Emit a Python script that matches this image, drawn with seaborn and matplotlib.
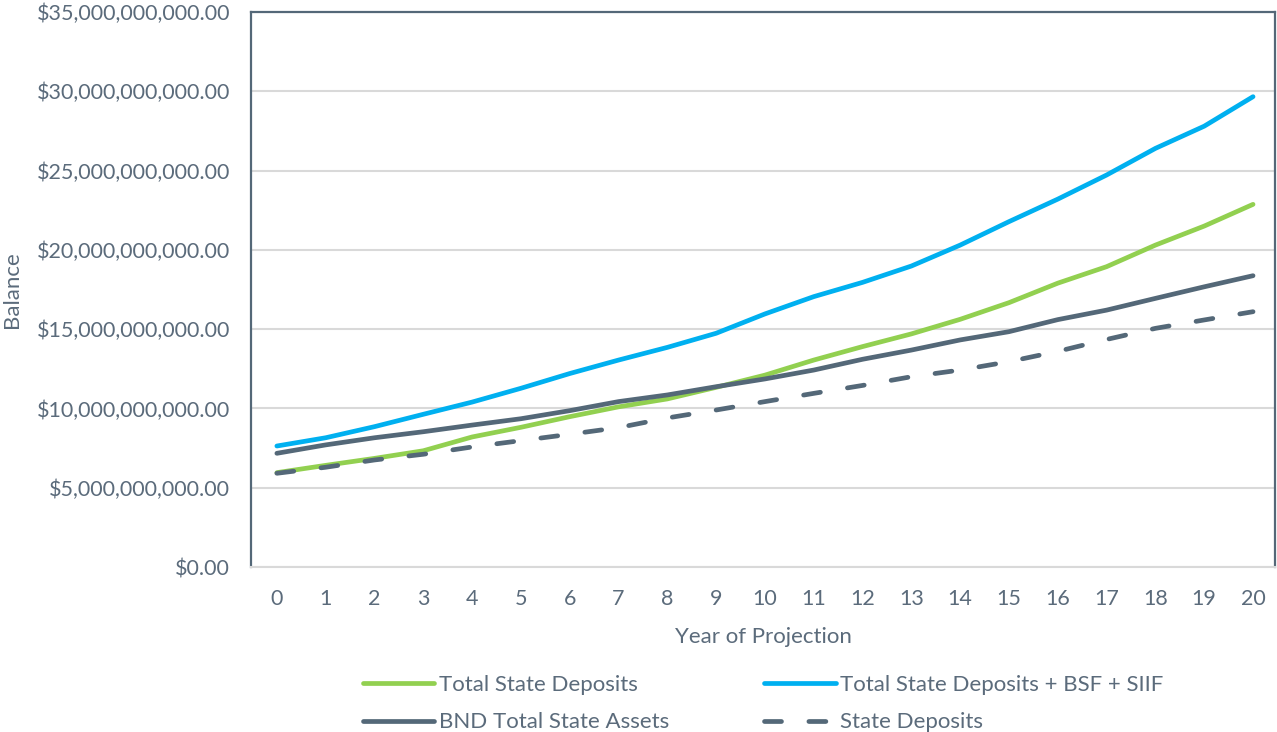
import matplotlib
matplotlib.use("Agg")
import matplotlib.pyplot as plt
import seaborn as sns
import numpy as np
from matplotlib.ticker import FuncFormatter, MultipleLocator

years = list(range(0, 21))
total_state_deposits = [5.95, 6.41, 6.85, 7.33, 8.2, 8.81, 9.48, 10.1, 10.6, 11.33, 12.1,
                        13.05, 13.9, 14.7, 15.62, 16.67, 17.9, 18.94, 20.3, 21.5, 22.87]
total_bsf_siif = [7.63, 8.15, 8.85, 9.63, 10.4, 11.27, 12.2, 13.05, 13.85, 14.74, 15.96,
                  17.05, 17.95, 18.98, 20.3, 21.78, 23.2, 24.72, 26.4, 27.8, 29.66]
bnd_total_assets = [7.17, 7.7, 8.15, 8.53, 8.95, 9.35, 9.86, 10.43, 10.85, 11.37, 11.86,
                    12.42, 13.1, 13.68, 14.32, 14.84, 15.6, 16.2, 16.94, 17.67, 18.37]
state_deposits = [5.91, 6.29, 6.75, 7.11, 7.57, 7.97, 8.37, 8.79, 9.4, 9.9, 10.43,
                  10.95, 11.45, 12.0, 12.42, 12.95, 13.6, 14.35, 15.05, 15.58, 16.1]
labels = ["Total State Deposits", "Total State Deposits + BSF + SIIF",
          "BND Total State Assets", "State Deposits"]

sns.set_theme(style="white")
plt.rcParams['font.family'] = ['Lato', 'DejaVu Sans']

text_col = "#5B6B7B"
dark = "#546878"
fig = plt.figure(figsize=(12.77, 7.32), dpi=100)
ax = fig.add_axes([251/1277, 1-567/732, 1024/1277, 555/732])

lw = 3.4
B = 1e9
sns.lineplot(x=years, y=np.array(total_state_deposits)*B, ax=ax, color="#92D050", lw=lw,
             label=labels[0], solid_capstyle="round")
sns.lineplot(x=years, y=np.array(total_bsf_siif)*B, ax=ax, color="#00B0F0", lw=lw,
             label=labels[1], solid_capstyle="round")
sns.lineplot(x=years, y=np.array(bnd_total_assets)*B, ax=ax, color=dark, lw=lw,
             label=labels[2], solid_capstyle="round")
sns.lineplot(x=years, y=np.array(state_deposits)*B, ax=ax, color=dark, lw=lw,
             label=labels[3], dashes=False)
l = ax.get_lines()[-1]
l.set_dashes([3.6, 5.8])
l.set_dash_capstyle("round")

ax.set_xlim(-0.53, 20.45)
ax.set_ylim(0, 35e9)
ax.yaxis.set_major_locator(MultipleLocator(5e9))
ax.xaxis.set_major_locator(MultipleLocator(1))
ax.yaxis.set_major_formatter(FuncFormatter(lambda v, p: "${:,.2f}".format(v)))
ax.grid(axis="y", color="#D9D9D9", lw=1.5)
ax.set_axisbelow(True)
for s in ["left", "top", "right"]:
    ax.spines[s].set_color(dark)
    ax.spines[s].set_linewidth(1.6)
ax.spines["bottom"].set_color("#D9D9D9")
ax.spines["bottom"].set_linewidth(1.5)
ax.tick_params(axis="both", length=0, labelsize=15.5, labelcolor=text_col)
ax.tick_params(axis="y", pad=15)
ax.tick_params(axis="x", pad=16)
ax.set_xlabel("Year of Projection", fontsize=16, color=text_col, labelpad=13)
ax.set_ylabel("Balance", fontsize=16, color=text_col, labelpad=10.5)

h, lb = ax.get_legend_handles_labels()
ax.get_legend().remove()
order = [0, 2, 1, 3]
fig.legend([h[i] for i in order], [lb[i] for i in order], ncol=2, frameon=False,
           loc="upper left", bbox_to_anchor=(352/1277, 1-664/732), borderpad=0,
           fontsize=16, labelcolor=text_col,
           handlelength=3.2, handletextpad=0.2, columnspacing=4.3, labelspacing=0.78)

fig.savefig("out.png", dpi=100)
